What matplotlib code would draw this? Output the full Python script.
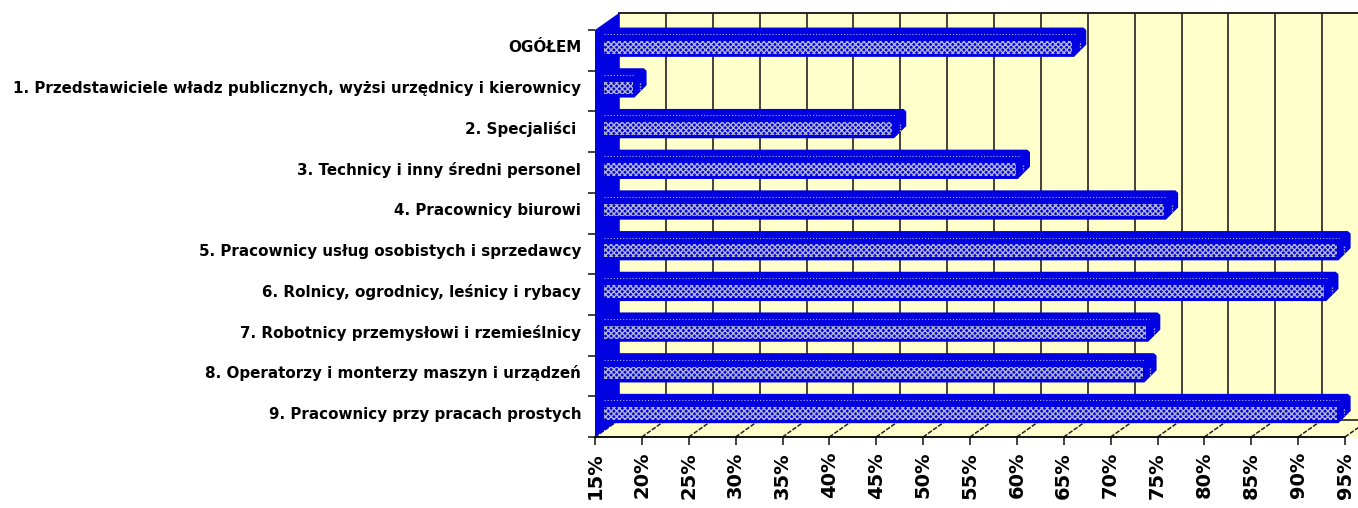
import matplotlib
matplotlib.use('Agg')
import matplotlib.pyplot as plt
from matplotlib.patches import Polygon, Rectangle

labels = ['OGÓŁEM',
          '1. Przedstawiciele władz publicznych, wyżsi urzędnicy i kierownicy',
          '2. Specjaliści ',
          '3. Technicy i inny średni personel',
          '4. Pracownicy biurowi',
          '5. Pracownicy usług osobistych i sprzedawcy',
          '6. Rolnicy, ogrodnicy, leśnicy i rybacy',
          '7. Robotnicy przemysłowi i rzemieślnicy',
          '8. Operatorzy i monterzy maszyn i urządzeń',
          '9. Pracownicy przy pracach prostych']
values = [65.9, 19.0, 46.7, 59.9, 75.7, 94.1, 92.8, 73.8, 73.4, 94.1]
ticks = list(range(15, 100, 5))
tick_labels = [str(t) + '%' for t in ticks]

BLUE = '#0000e0'
WALL = '#ffffcc'

plt.rcParams['hatch.linewidth'] = 1.0

# depth of the fake 3d box, in data units
dx = 2.56
dy = 0.418
bar_dx = 1.5

fig = plt.figure(figsize=(13.58, 5.08), dpi=100)
ax = fig.add_axes([595 / 1358, (508 - 437) / 508, 750 / 1358, 407 / 508])
ax.set_xlim(15, 95)
ax.set_ylim(10, 0)
ax.patch.set_visible(False)

# back wall, floor and left wall
ax.add_patch(Rectangle((15 + dx, -dy), 90, 10, fc=WALL, ec='none', clip_on=False, zorder=1))
ax.add_patch(Polygon([(15, 10), (15 + dx, 10 - dy), (105, 10 - dy), (105, 10)],
                     fc=WALL, ec='none', clip_on=False, zorder=1))
ax.plot([15 + dx, 105], [-dy, -dy], color='#222222', lw=1.4, clip_on=False, zorder=2)
ax.plot([15 + dx, 105], [10 - dy, 10 - dy], color='#222222', lw=1.2, clip_on=False, zorder=2)
for t in ticks:
    ax.plot([t + dx, t + dx], [-dy, 10 - dy], color='#222222', lw=1.2, clip_on=False, zorder=2)
    ax.plot([t, t + dx], [10, 10 - dy], color='#222222', lw=1.1, ls=(0, (3, 1)), clip_on=False, zorder=2)
ax.add_patch(Polygon([(15, 0), (15 + dx, -dy), (15 + dx, 10 - dy), (15, 10)],
                     fc=BLUE, ec='none', clip_on=False, zorder=3))

# bars
for i, v in enumerate(values):
    left = 15.5
    r = v + bar_dx
    shape = [(left, i - 0.06), (r - 0.3, i - 0.06), (r, i + 0.0), (r, i + 0.36),
             (v + 0.2, i + 0.66), (left, i + 0.66)]
    ax.add_patch(Polygon(shape, fc=BLUE, ec='none', clip_on=False, zorder=4))
    ax.add_patch(Rectangle((16, i + 0.27), v - 16, 0.31, fc=BLUE, ec='#b0b4d4', lw=0,
                           hatch='xxxxxx', clip_on=False, zorder=5))
    ax.plot([16, v + 0.3], [i + 0.1, i + 0.1], color='#a8b0f0', lw=0.8, ls=(0, (1, 1.8)),
            clip_on=False, zorder=5)
    ax.plot([v + 0.8, v + 0.8], [i + 0.31, i + 0.47], color='#b0b4d4', lw=1.0, ls=(0, (1, 1)),
            clip_on=False, zorder=5)

ax.set_xticks(ticks)
ax.set_xticklabels(tick_labels, rotation=90, family='DejaVu Sans', fontweight='bold',
                   fontsize=14, va='top', ha='center')
ax.set_yticks([i + 0.4 for i in range(len(labels))])
ax.set_yticklabels(labels, family='DejaVu Sans', fontweight='bold', fontsize=10.9)
ax.set_yticks(range(11), minor=True)
ax.tick_params(axis='y', which='major', length=0, pad=10)
ax.tick_params(axis='y', which='minor', length=5, width=1.2, color='#222222')
ax.tick_params(axis='x', length=5.8, width=1.2, color='#222222', pad=5)
for s in ['top', 'right', 'left']:
    ax.spines[s].set_visible(False)
ax.spines['bottom'].set_linewidth(1.3)
ax.spines['bottom'].set_zorder(6)

fig.savefig('out.png', dpi=100)
